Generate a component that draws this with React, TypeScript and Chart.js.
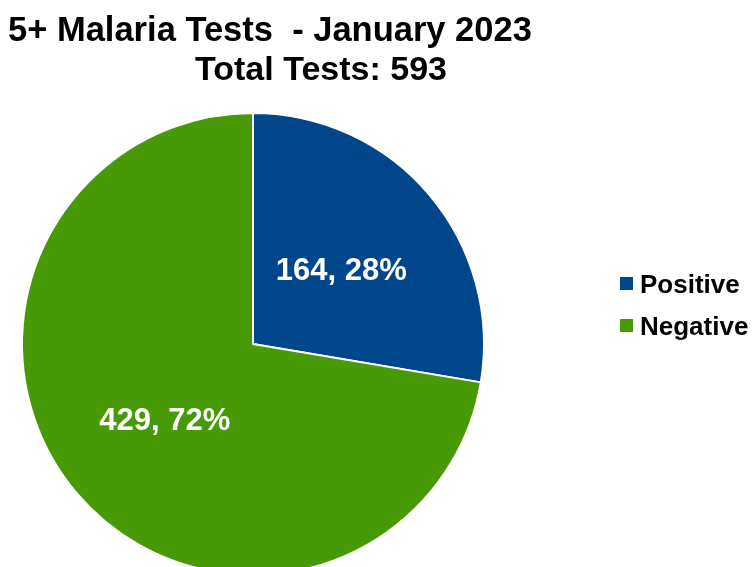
import React, { useEffect, useRef } from "react";
import { Chart, registerables } from "chart.js";

Chart.register(...registerables);

const categories = ["Positive", "Negative"];
const values = [164, 429];
const sliceColors = ["#00468A", "#479A06"];
const titleLines = ["5+ Malaria Tests  - January 2023", "Total Tests: 593"];

const FONT = '"Liberation Sans", Arial, sans-serif';

const overlayPlugin = {
  id: "overlay",
  afterDatasetsDraw(chart: any) {
    const ctx = chart.ctx;
    const meta = chart.getDatasetMeta(0);
    const data = chart.data.datasets[0].data as number[];
    const total = data.reduce((a: number, b: number) => a + b, 0);
    ctx.save();
    // slice labels
    ctx.fillStyle = "#ffffff";
    ctx.font = `bold 31px ${FONT}`;
    ctx.textAlign = "center";
    ctx.textBaseline = "alphabetic";
    meta.data.forEach((arc: any, i: number) => {
      const p = arc.tooltipPosition();
      const v = data[i];
      const pct = Math.round((v / total) * 100);
      ctx.fillText(`${v}, ${pct}%`, p.x, p.y + 11);
    });
    // title
    ctx.fillStyle = "#000000";
    ctx.font = `bold 34.5px ${FONT}`;
    ctx.textAlign = "left";
    ctx.fillText(titleLines[0], 8, 41);
    ctx.font = `bold 34px ${FONT}`;
    ctx.textAlign = "center";
    ctx.fillText(titleLines[1], 321, 80);
    // legend
    ctx.font = `bold 26px ${FONT}`;
    ctx.textAlign = "left";
    const colors = chart.data.datasets[0].backgroundColor as string[];
    chart.data.labels.forEach((lab: string, i: number) => {
      const y = 277 + i * 42;
      ctx.fillStyle = colors[i];
      ctx.fillRect(620, y, 13, 13);
      ctx.fillStyle = "#000000";
      ctx.fillText(lab, 640, y + 16);
    });
    ctx.restore();
  },
};

export default function App() {
  const ref = useRef<HTMLCanvasElement | null>(null);
  useEffect(() => {
    if (!ref.current) return;
    const chart = new Chart(ref.current, {
      type: "pie",
      data: {
        labels: categories,
        datasets: [
          {
            data: values,
            backgroundColor: sliceColors,
            borderColor: "#ffffff",
            borderWidth: 2,
            hoverOffset: 0,
          },
        ],
      },
      options: {
        responsive: false,
        animation: false,
        devicePixelRatio: 1,
        radius: 231,
        layout: { padding: { left: 0, right: 247, top: 114, bottom: 26 } },
        plugins: {
          legend: { display: false },
          title: { display: false },
          tooltip: { enabled: true },
        },
      } as any,
      plugins: [overlayPlugin],
    });
    return () => chart.destroy();
  }, []);
  return (
    <div
      style={{
        position: "fixed",
        left: 0,
        top: 0,
        width: 753,
        height: 567,
        overflow: "hidden",
        background: "#ffffff",
      }}
    >
      <canvas ref={ref} width={753} height={600} style={{ width: 753, height: 600, display: "block" }} />
    </div>
  );
}
